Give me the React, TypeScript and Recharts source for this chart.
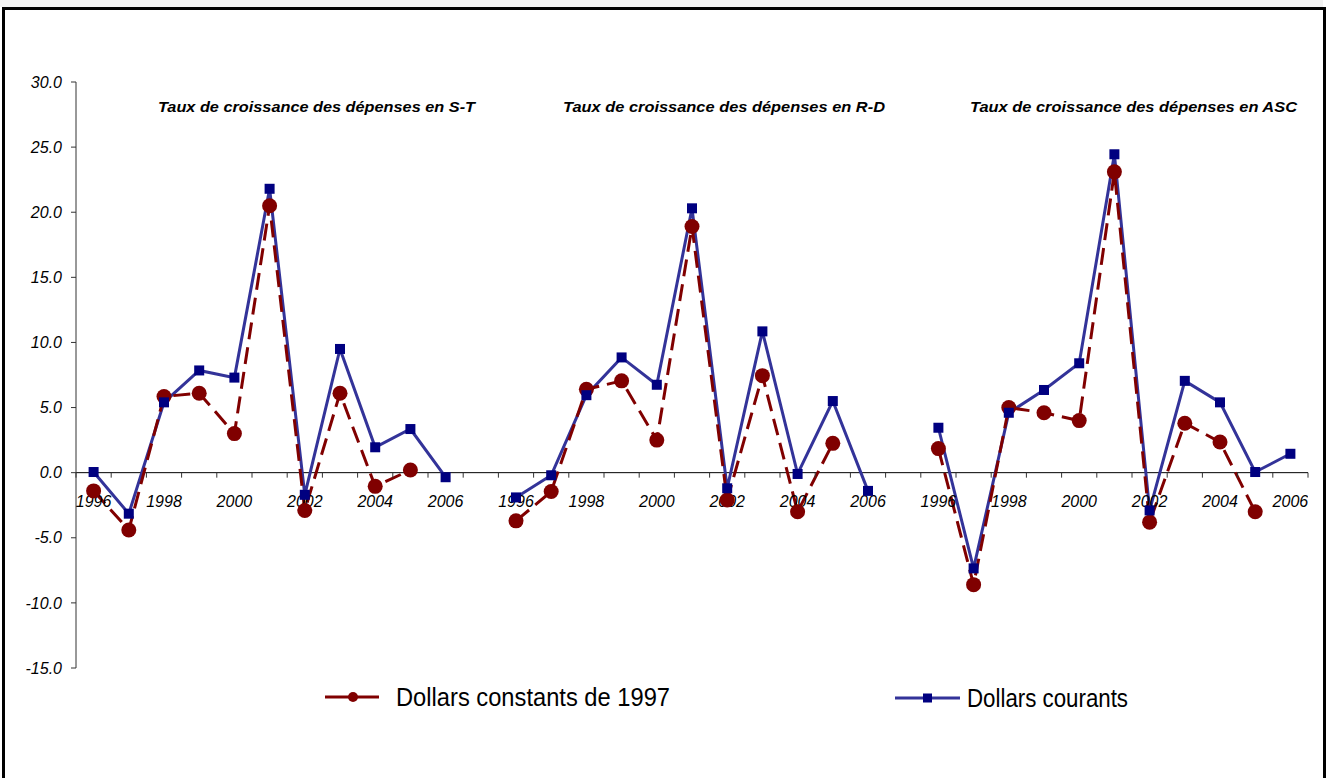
import { LineChart, Line, XAxis, YAxis, ReferenceLine, ReferenceDot } from "recharts";

const YEARS = ["1996", "1997", "1998", "1999", "2000", "2001", "2002", "2003", "2004", "2005", "2006"];
const PANELS = ["S-T", "R-D", "ASC"];

// Dollars constants de 1997 (pas de valeur pour 2006)
const CONST_ST = [-1.4, -4.4, 5.85, 6.1, 3.0, 20.5, -2.9, 6.1, -1.05, 0.2, null];
const CONST_RD = [-3.7, -1.45, 6.4, 7.05, 2.5, 18.9, -2.1, 7.45, -3.0, 2.25, null];
const CONST_ASC = [1.85, -8.6, 5.0, 4.6, 4.0, 23.1, -3.8, 3.8, 2.35, -3.0, null];

// Dollars courants
const COUR_ST = [0.05, -3.15, 5.4, 7.85, 7.3, 21.8, -1.7, 9.5, 1.95, 3.35, -0.35];
const COUR_RD = [-1.9, -0.2, 5.95, 8.85, 6.75, 20.3, -1.2, 10.85, -0.1, 5.5, -1.4];
const COUR_ASC = [3.45, -7.35, 4.6, 6.35, 8.4, 24.45, -2.9, 7.05, 5.4, 0.05, 1.45];

const Y_TICKS = [-15, -10, -5, 0, 5, 10, 15, 20, 25, 30];

const CONSTS = [CONST_ST, CONST_RD, CONST_ASC];
const COURS = [COUR_ST, COUR_RD, COUR_ASC];

type Row = { pos: number; year: string; constants: number | null; courants: number | null };

// 3 panneaux de 11 années, séparés par une catégorie vide
const rows: Row[] = [];
PANELS.forEach((_, p) => {
  YEARS.forEach((y, i) => {
    rows.push({ pos: rows.length + 0.5, year: y, constants: CONSTS[p][i], courants: COURS[p][i] });
  });
  if (p < PANELS.length - 1) rows.push({ pos: rows.length + 0.5, year: "", constants: null, courants: null });
});

const N = rows.length;
const boundaries = Array.from({ length: N + 1 }, (_, i) => i);
const labelled = rows.filter((r, i) => i % 2 === 0 && r.year !== "");

const FONT = "'Liberation Sans', Arial, sans-serif";
const RED = "#800000";
const BLUE_LINE = "#333399";
const BLUE_MARK = "#000080";

const squareDot = (p: any) =>
  p.cy == null || p.value == null ? (
    <g key={`sq-${p.index}`} />
  ) : (
    <rect key={`sq-${p.index}`} x={p.cx - 5} y={p.cy - 5} width={10} height={10} fill={BLUE_MARK} />
  );

const TITLES = [
  { text: "Taux de croissance des dépenses en S-T", x: 158, w: 317 },
  { text: "Taux de croissance des dépenses en R-D", x: 563, w: 322 },
  { text: "Taux de croissance des dépenses en ASC", x: 970, w: 327 },
];

export default function App() {
  return (
    <div style={{ position: "absolute", left: 0, top: 0, width: 1328, height: 778, background: "#fff", overflow: "hidden", fontFamily: FONT }}>
      <div style={{ position: "absolute", left: 0, top: 0, width: 1323, height: 7, background: "#f2f2f2" }} />
      <div style={{ position: "absolute", left: 2, top: 7, width: 1318, height: 800, border: "3px solid #000" }} />

      <div style={{ position: "absolute", left: 0, top: 0 }}>
        <LineChart width={1328} height={778} data={rows} margin={{ top: 82, right: 20, left: 16, bottom: 110 }}>
          <XAxis type="number" dataKey="pos" domain={[0, N]} hide />
          <YAxis
            domain={[-15, 30]}
            ticks={Y_TICKS}
            width={60}
            interval={0}
            tickFormatter={(v: number) => v.toFixed(1)}
            tick={{ fontSize: 16, fontStyle: "italic", fill: "#000", fontFamily: FONT }}
            axisLine={{ stroke: "#333" }}
            tickLine={{ stroke: "#333" }}
            tickSize={5}
            tickMargin={9}
          />
          <ReferenceLine y={0} stroke="#000" strokeWidth={1} />
          {boundaries.map((b) => (
            <ReferenceDot
              key={`t-${b}`}
              x={b}
              y={0}
              r={0}
              shape={(p: any) => <line x1={p.cx} y1={p.cy} x2={p.cx} y2={p.cy + 5} stroke="#333" strokeWidth={1} />}
            />
          ))}
          {labelled.map((r) => (
            <ReferenceDot
              key={`l-${r.pos}`}
              x={r.pos}
              y={0}
              r={0}
              ifOverflow="hidden"
              shape={(p: any) => (
                <g clipPath={p.clipPath}>
                  <text x={p.cx} y={p.cy + 34} textAnchor="middle" fontSize={16} fontStyle="italic" fill="#000" fontFamily={FONT}>
                    {r.year}
                  </text>
                </g>
              )}
            />
          ))}
          <Line dataKey="courants" stroke={BLUE_LINE} strokeWidth={3} dot={false} isAnimationActive={false} connectNulls={false} />
          <Line dataKey="constants" stroke={RED} strokeWidth={3} strokeDasharray="17 8" dot={false} isAnimationActive={false} connectNulls={false} />
          <Line dataKey="constants" stroke="none" dot={{ r: 7.5, fill: RED, stroke: "none" }} isAnimationActive={false} />
          <Line dataKey="courants" stroke="none" dot={squareDot} isAnimationActive={false} />
        </LineChart>
      </div>

      <svg style={{ position: "absolute", left: 0, top: 0 }} width={1328} height={778} pointerEvents="none">
        {TITLES.map((t) => (
          <text key={t.text} x={t.x} y={112} fontSize={14} fontWeight="bold" fontStyle="italic" fill="#000" fontFamily={FONT} textLength={t.w} lengthAdjust="spacingAndGlyphs">
            {t.text}
          </text>
        ))}
        <line x1={325} y1={697} x2={379} y2={697} stroke={RED} strokeWidth={3} />
        <circle cx={353} cy={697} r={5} fill={RED} />
        <text x={396} y={706} fontSize={26} fill="#000" fontFamily={FONT} textLength={274} lengthAdjust="spacingAndGlyphs">
          Dollars constants de 1997
        </text>
        <line x1={895} y1={698} x2={960} y2={698} stroke={BLUE_LINE} strokeWidth={3} />
        <rect x={923} y={693.5} width={9} height={9} fill={BLUE_MARK} />
        <text x={967} y={707} fontSize={26} fill="#000" fontFamily={FONT} textLength={161} lengthAdjust="spacingAndGlyphs">
          Dollars courants
        </text>
      </svg>
    </div>
  );
}
